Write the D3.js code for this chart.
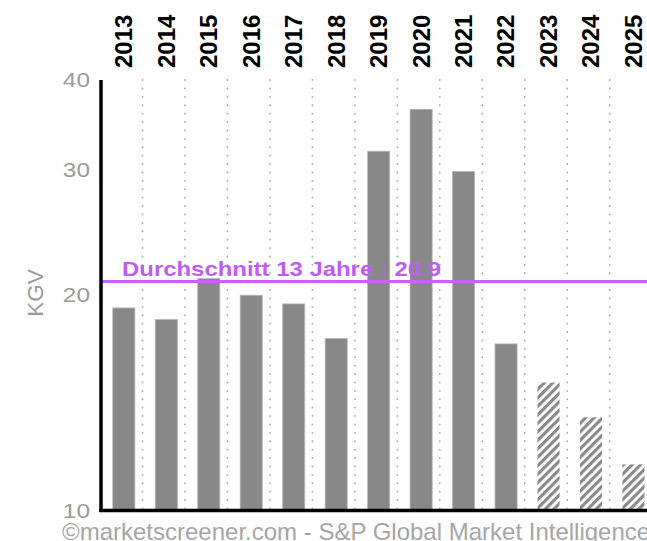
<!DOCTYPE html>
<html>
<head>
<meta charset="utf-8">
<script src="https://cdn.jsdelivr.net/npm/d3@7"></script>
<style>
  html, body { margin: 0; padding: 0; background: #fff; }
  svg { display: block; }
</style>
</head>
<body>
<script>
const years = ["2013","2014","2015","2016","2017","2018","2019","2020","2021","2022","2023","2024","2025"];
const peValues = [19.2, 18.5, 21.1, 20.0, 19.45, 17.4, 31.8, 36.4, 29.8, 17.1, 15.1, 13.5, 11.6];
const estimated = [false,false,false,false,false,false,false,false,false,false,true,true,true];
const averageValue = 20.9;
const averageLabel = "Durchschnitt 13 Jahre : 20.9";
const yTicks = [10, 20, 30, 40];
const yTitle = "KGV";
const credit = "\u00A9marketscreener.com - S&P Global Market Intelligence";

const W = 647, H = 541;
const FONT = "Liberation Sans, Arial, sans-serif";
const svg = d3.select("body").append("svg").attr("width", W).attr("height", H);

const defs = svg.append("defs");
const pat = defs.append("pattern").attr("id", "hatch").attr("patternUnits", "userSpaceOnUse")
  .attr("width", 6).attr("height", 6).attr("patternTransform", "rotate(45)");
pat.append("rect").attr("width", 6).attr("height", 6).attr("fill", "#fff");
pat.append("rect").attr("width", 3.2).attr("height", 6).attr("fill", "#8a8a8a");

const x = d3.scaleBand().domain(years).range([102.6, 654.7]).paddingInner(0.48).paddingOuter(0.24);
const y = d3.scaleLog().domain([10, 40]).range([510.5, 80]);

// dotted separators
svg.append("g").selectAll("line").data(years.slice(0, -1)).join("line")
  .attr("x1", d => x(d) + x.step() * 0.7).attr("x2", d => x(d) + x.step() * 0.7)
  .attr("y1", y(40)).attr("y2", y(10))
  .attr("stroke", "#a8a8a8").attr("stroke-width", 1.8)
  .attr("stroke-linecap", "round")
  .attr("stroke-dasharray", "0.1,8.3");

// bars
svg.append("g").selectAll("rect").data(years).join("rect")
  .attr("x", d => x(d)).attr("width", x.bandwidth())
  .attr("y", (d, i) => y(peValues[i]))
  .attr("height", (d, i) => y(10) - y(peValues[i]))
  .attr("fill", (d, i) => estimated[i] ? "url(#hatch)" : "#888")
  .attr("stroke", (d, i) => estimated[i] ? "none" : "#b5b5b5")
  .attr("stroke-width", 0.8);

// average line
svg.append("line").attr("x1", 101).attr("x2", W)
  .attr("y1", y(averageValue)).attr("y2", y(averageValue))
  .attr("stroke", "#c264f7").attr("stroke-width", 3);
svg.append("text").attr("x", 122).attr("y", y(averageValue) - 6)
  .attr("font-family", FONT).attr("font-weight", "bold")
  .attr("font-size", 21).attr("fill", "#bf5cf5")
  .attr("textLength", 319).attr("lengthAdjust", "spacingAndGlyphs")
  .text(averageLabel);

// axes lines
svg.append("line").attr("x1", 101).attr("x2", 101).attr("y1", y(40)).attr("y2", y(10) + 1.5)
  .attr("stroke", "#000").attr("stroke-width", 3.5);
svg.append("line").attr("x1", 99.3).attr("x2", W).attr("y1", y(10)).attr("y2", y(10))
  .attr("stroke", "#000").attr("stroke-width", 3.5);

// y tick labels
svg.append("g").selectAll("text").data(yTicks).join("text")
  .attr("transform", d => `translate(90,${y(d)}) scale(1.22,1)`)
  .attr("dy", "0.36em")
  .attr("text-anchor", "end")
  .attr("font-family", FONT).attr("font-size", 20)
  .attr("fill", "#9a9a9a").text(d => d);

// y title
svg.append("text").attr("transform", "translate(35,293) rotate(-90)")
  .attr("text-anchor", "middle").attr("dy", "0.36em")
  .attr("font-family", FONT).attr("font-size", 22.5)
  .attr("fill", "#9a9a9a").text(yTitle);

// year labels on top
svg.append("g").selectAll("text").data(years).join("text")
  .attr("transform", d => `translate(${x(d) + x.bandwidth() / 2},68) rotate(-90)`)
  .attr("dy", "0.35em").attr("text-anchor", "start")
  .attr("font-family", FONT).attr("font-weight", "bold")
  .attr("font-size", 24).attr("fill", "#000").text(d => d);

// credit
svg.append("text").attr("x", 62).attr("y", 540)
  .attr("font-family", FONT).attr("font-size", 24)
  .attr("fill", "#a5a5a5").text(credit);
</script>
</body>
</html>
